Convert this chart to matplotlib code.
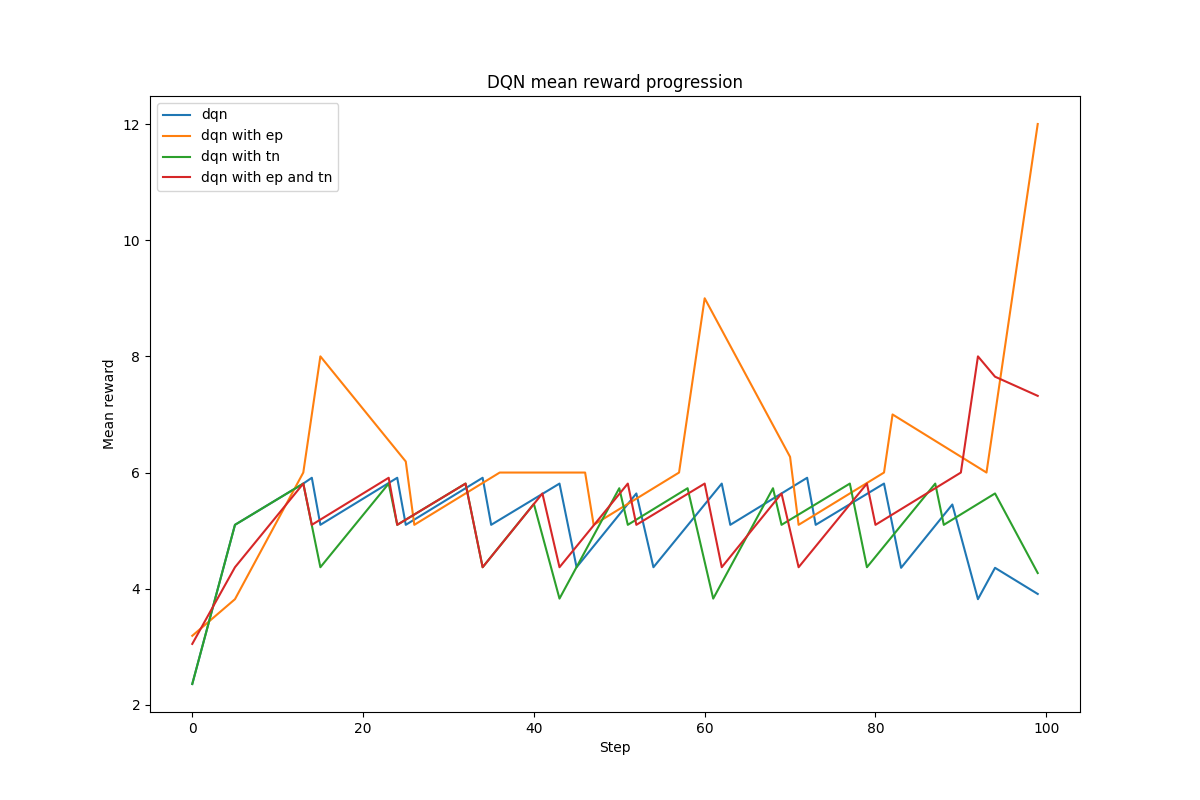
import matplotlib.pyplot as plt

# --- Data (vertices) ---------------------------------------------------------
dqn_steps = [0, 5, 13, 14, 15, 24, 25, 34, 35, 43, 45, 52, 54, 62, 63, 72, 73,
             81, 83, 89, 92, 94, 99]
dqn_reward = [2.36, 5.10, 5.81, 5.91, 5.10, 5.91, 5.10, 5.91, 5.10, 5.81, 4.37,
              5.64, 4.37, 5.81, 5.10, 5.91, 5.10, 5.81, 4.36, 5.45, 3.82, 4.36,
              3.91]

ep_steps = [0, 5, 13, 15, 25, 26, 36, 46, 47, 57, 60, 70, 71, 81, 82, 93, 99]
ep_reward = [3.19, 3.82, 6.0, 8.0, 6.19, 5.10, 6.0, 6.0, 5.10, 6.0, 9.0, 6.27,
             5.10, 6.0, 7.0, 6.0, 12.0]

tn_steps = [0, 5, 13, 15, 23, 24, 32, 34, 40, 43, 50, 51, 58, 61, 68, 69, 77,
            79, 87, 88, 94, 99]
tn_reward = [2.36, 5.10, 5.81, 4.37, 5.81, 5.10, 5.81, 4.37, 5.46, 3.83, 5.73,
             5.10, 5.73, 3.83, 5.73, 5.10, 5.81, 4.37, 5.81, 5.10, 5.64, 4.27]

ep_tn_steps = [0, 5, 13, 14, 23, 24, 32, 34, 41, 43, 51, 52, 60, 62, 69, 71,
               79, 80, 90, 92, 94, 99]
ep_tn_reward = [3.05, 4.37, 5.81, 5.10, 5.91, 5.10, 5.81, 4.37, 5.64, 4.37,
                5.81, 5.10, 5.81, 4.37, 5.64, 4.37, 5.81, 5.10, 6.0, 8.0, 7.65,
                7.32]

# --- Plot --------------------------------------------------------------------
fig, ax = plt.subplots(figsize=(12, 8), dpi=100)
ax.plot(dqn_steps, dqn_reward, label="dqn")
ax.plot(ep_steps, ep_reward, label="dqn with ep")
ax.plot(tn_steps, tn_reward, label="dqn with tn")
ax.plot(ep_tn_steps, ep_tn_reward, label="dqn with ep and tn")
ax.set_xlabel("Step")
ax.set_ylabel("Mean reward")
ax.set_title("DQN mean reward progression")
ax.legend(loc="upper left")

plt.savefig("out.png", dpi=100)
plt.close(fig)
